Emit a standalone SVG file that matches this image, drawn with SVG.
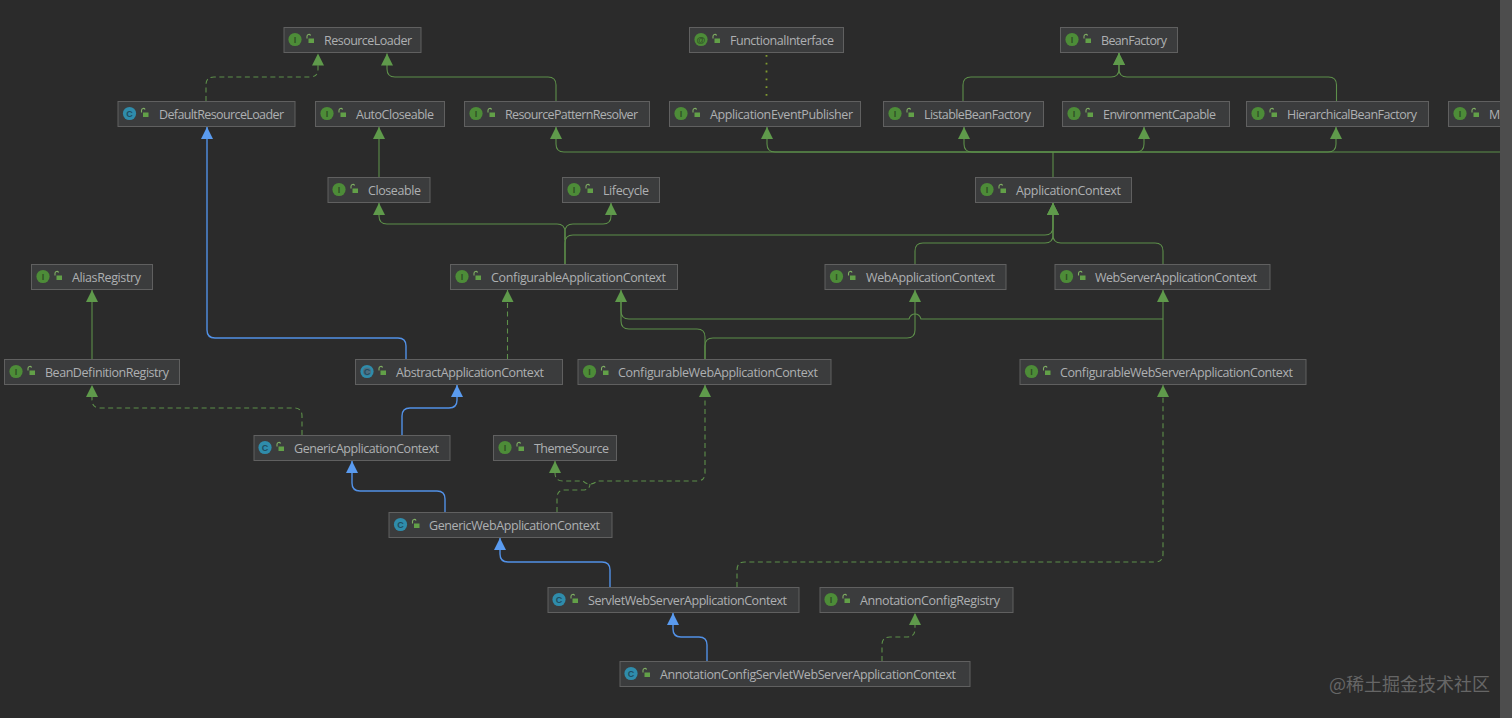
<svg xmlns="http://www.w3.org/2000/svg" width="1512" height="718" viewBox="0 0 1512 718">
<style>
.n{fill:#3b3c3d;stroke:#606060;stroke-width:1}
.t{font-family:"Open Sans","Liberation Sans",sans-serif;font-size:12.5px;fill:#aeb0b2}
.l{font-family:"Liberation Sans",sans-serif;font-size:9px;font-weight:bold;text-anchor:middle}
.e{fill:none;stroke-width:1.1}
.g{stroke:#5d8f4a;marker-end:url(#ag)}
.g0{stroke:#5d8f4a}
.b{stroke:#5291e6;stroke-width:1.4;marker-end:url(#ab)}
.d{stroke-dasharray:5 3.5}
.o{stroke:#7f9a2f;stroke-width:1.8;stroke-dasharray:1.8 6}
.w{font-family:"Noto Sans CJK SC","Liberation Sans",sans-serif;font-size:18px;fill:#666666}
</style>
<defs>
<marker id="ag" markerUnits="userSpaceOnUse" markerWidth="13" markerHeight="13" refX="12" refY="6" orient="auto"><path d="M0 0L12 6L0 12Z" fill="#5f9a4b"/></marker>
<marker id="ab" markerUnits="userSpaceOnUse" markerWidth="13" markerHeight="13" refX="12" refY="6" orient="auto"><path d="M0 0L12 6L0 12Z" fill="#5a9bef"/></marker>
<g id="lock"><path d="M-3 -1v-2.200a1.900 1.900 0 0 1 3.600 -.8" fill="none" stroke="#7fae63" stroke-width="1.100"/><rect x="-1.500" y="-1" width="5.500" height="4.500" fill="#62a048"/></g>
<g id="ii"><circle r="6.600" fill="#4d8c38"/><text class="l" y="3.200" fill="#2f4f25">I</text><use href="#lock" x="15" y="0"/></g>
<g id="ic"><circle r="6.600" fill="#2f8cab"/><text class="l" y="3.200" fill="#1f4d60">C</text><use href="#lock" x="15" y="0"/></g>
<g id="ia"><circle r="6.600" fill="#2f8cab"/><circle r="4" fill="#4f6f80"/><text class="l" y="3.200" fill="#1f4d60">C</text><use href="#lock" x="15" y="0"/></g>
<g id="if"><circle r="6.600" fill="#4d8c38"/><text class="l" y="3.200" fill="#2f4f25">@</text><use href="#lock" x="15" y="0"/></g>
</defs>
<rect width="1512" height="718" fill="#2b2b2b"/>
<g id="connectors" class="e">
<path class="g d e" d="M206 101V85q0-8 8-8H310q8 0 8-8V53.500"/>
<path class="g e" d="M556 101V85q0-8-8-8H395q-8 0-8-8V53.500"/>
<path class="o e" d="M766.500 55V99"/>
<path class="g e" d="M963 101V85q0-8 8-8H1111q8 0 8-8V53"/>
<path class="g e" d="M1336.500 101V85q0-8-8-8H1127q-8 0-8-8V53"/>
<path class="g e" d="M379 177V127"/>
<path class="g0 e" d="M1053 177V152"/>
<path class="g e" d="M1053 152H564q-8 0-8-8V127"/>
<path class="g e" d="M1053 152H775q-8 0-8-8V127"/>
<path class="g e" d="M1053 152H972q-8 0-8-8V127"/>
<path class="g e" d="M1053 152H1136q8 0 8-8V127"/>
<path class="g e" d="M1053 152H1328q8 0 8-8V127"/>
<path class="g0 e" d="M1053 152H1500"/>
<path class="g e" d="M565 264V232q0-8-8-8H387q-8 0-8-8V203"/>
<path class="g e" d="M565 240V232q0-8 8-8H603q8 0 8-8V203"/>
<path class="g e" d="M565 264V243q0-8 8-8H1045q8 0 8-8V203"/>
<path class="g e" d="M915 264V251q0-8 8-8H1045q8 0 8-8V203"/>
<path class="g e" d="M1163 264V251q0-8-8-8H1061q-8 0-8-8V203"/>
<path class="g e" d="M92 359V290"/>
<path class="b e" d="M406 359V346q0-8-8-8H215q-8 0-8-8V127"/>
<path class="g d e" d="M507.500 359V290"/>
<path class="g e" d="M705 359V337q0-8-8-8H629q-8 0-8-8V290"/>
<path class="g e" d="M705 359V346q0-8 8-8H907q8 0 8-8V290"/>
<path class="g e" d="M1163 359V290"/>
<path class="g0 e" d="M1163 319H921q-1.500-5-6-5t-6 5H629q-8 0-8-8V300"/>
<path class="g d e" d="M302 435V416q0-8-8-8H100q-8 0-8-8V385"/>
<path class="b e" d="M402 435V416q0-8 8-8H449q8 0 8-8V385"/>
<path class="b e" d="M445 512V499q0-8-8-8H360q-8 0-8-8V461"/>
<path class="g0 d e" d="M557 512V498q0-8 8-8H582q8 0 8-6"/>
<path class="g0 d e" d="M705 392V473q0 8-8 8H597q-3 3-7 3t-7-3H563q-8 0-8-8V468"/>
<path class="g0 e" d="M705 392V385" style="marker-end:url(#ag)"/>
<path class="g0 e" d="M555 470V461" style="marker-end:url(#ag)"/>
<path class="b e" d="M610 587V570q0-8-8-8H508q-8 0-8-8V538"/>
<path class="g d e" d="M737 587V570q0-8 8-8H1155q8 0 8-8V385"/>
<path class="b e" d="M707 661V645q0-8-8-8H681q-8 0-8-8V613"/>
<path class="g d e" d="M882 661V645q0-8 8-8H907q8 0 8-8V613"/>
</g>
<g id="ResourceLoader"><rect class="n" x="284" y="27.500" width="137" height="25"/><use href="#ii" x="295" y="39.500"/><text class="t" x="324" y="45" textLength="88">ResourceLoader</text></g>
<g id="FunctionalInterface"><rect class="n" x="689.500" y="27.500" width="154" height="25"/><use href="#if" x="701" y="39.500"/><text class="t" x="730" y="45" textLength="104">FunctionalInterface</text></g>
<g id="BeanFactory"><rect class="n" x="1060.500" y="27.500" width="117" height="25"/><use href="#ii" x="1072" y="39.500"/><text class="t" x="1101" y="45" textLength="66">BeanFactory</text></g>
<g id="DefaultResourceLoader"><rect class="n" x="118" y="101.500" width="177" height="25"/><use href="#ic" x="129.500" y="113.500"/><text class="t" x="159" y="119" textLength="125">DefaultResourceLoader</text></g>
<g id="AutoCloseable"><rect class="n" x="315.500" y="101.500" width="129" height="25"/><use href="#ii" x="327" y="113.500"/><text class="t" x="356" y="119" textLength="78">AutoCloseable</text></g>
<g id="ResourcePatternResolver"><rect class="n" x="464.500" y="101.500" width="185" height="25"/><use href="#ii" x="476" y="113.500"/><text class="t" x="505" y="119" textLength="133">ResourcePatternResolver</text></g>
<g id="ApplicationEventPublisher"><rect class="n" x="669.500" y="101.500" width="191" height="25"/><use href="#ii" x="681" y="113.500"/><text class="t" x="710" y="119" textLength="143">ApplicationEventPublisher</text></g>
<g id="ListableBeanFactory"><rect class="n" x="883.500" y="101.500" width="160" height="25"/><use href="#ii" x="895" y="113.500"/><text class="t" x="924" y="119" textLength="107">ListableBeanFactory</text></g>
<g id="EnvironmentCapable"><rect class="n" x="1062.500" y="101.500" width="167" height="25"/><use href="#ii" x="1074" y="113.500"/><text class="t" x="1103" y="119" textLength="113">EnvironmentCapable</text></g>
<g id="HierarchicalBeanFactory"><rect class="n" x="1246.500" y="101.500" width="182" height="25"/><use href="#ii" x="1258" y="113.500"/><text class="t" x="1287" y="119" textLength="130">HierarchicalBeanFactory</text></g>
<g id="M"><rect class="n" x="1448.500" y="101.500" width="70" height="25"/><use href="#ii" x="1460" y="113.500"/><text class="t" x="1489" y="119">M</text></g>
<g id="Closeable"><rect class="n" x="328" y="177.500" width="102" height="25"/><use href="#ii" x="339" y="189.500"/><text class="t" x="368" y="195" textLength="53">Closeable</text></g>
<g id="Lifecycle"><rect class="n" x="562.500" y="177.500" width="97" height="25"/><use href="#ii" x="574" y="189.500"/><text class="t" x="603" y="195" textLength="46">Lifecycle</text></g>
<g id="ApplicationContext"><rect class="n" x="975.500" y="177.500" width="156" height="25"/><use href="#ii" x="987" y="189.500"/><text class="t" x="1016" y="195" textLength="105">ApplicationContext</text></g>
<g id="AliasRegistry"><rect class="n" x="31.500" y="264.500" width="121" height="25"/><use href="#ii" x="43" y="276.500"/><text class="t" x="72" y="282" textLength="69">AliasRegistry</text></g>
<g id="ConfigurableApplicationContext"><rect class="n" x="450.500" y="264.500" width="227" height="25"/><use href="#ii" x="462" y="276.500"/><text class="t" x="491" y="282" textLength="175">ConfigurableApplicationContext</text></g>
<g id="WebApplicationContext"><rect class="n" x="825" y="264.500" width="181" height="25"/><use href="#ii" x="836.500" y="276.500"/><text class="t" x="866" y="282" textLength="129">WebApplicationContext</text></g>
<g id="WebServerApplicationContext"><rect class="n" x="1055" y="264.500" width="215" height="25"/><use href="#ii" x="1066.500" y="276.500"/><text class="t" x="1095" y="282" textLength="162">WebServerApplicationContext</text></g>
<g id="BeanDefinitionRegistry"><rect class="n" x="4.500" y="359.500" width="175" height="25"/><use href="#ii" x="16" y="371.500"/><text class="t" x="45" y="377" textLength="124">BeanDefinitionRegistry</text></g>
<g id="AbstractApplicationContext"><rect class="n" x="355.500" y="359.500" width="207" height="25"/><use href="#ia" x="367" y="371.500"/><text class="t" x="396" y="377" textLength="148">AbstractApplicationContext</text></g>
<g id="ConfigurableWebApplicationContext"><rect class="n" x="578" y="359.500" width="253" height="25"/><use href="#ii" x="589.500" y="371.500"/><text class="t" x="618" y="377" textLength="200">ConfigurableWebApplicationContext</text></g>
<g id="ConfigurableWebServerApplicationContext"><rect class="n" x="1020" y="359.500" width="286" height="25"/><use href="#ii" x="1031.500" y="371.500"/><text class="t" x="1060" y="377" textLength="233">ConfigurableWebServerApplicationContext</text></g>
<g id="GenericApplicationContext"><rect class="n" x="254" y="435.500" width="196" height="25"/><use href="#ic" x="265" y="447.500"/><text class="t" x="294" y="452.500" textLength="145">GenericApplicationContext</text></g>
<g id="ThemeSource"><rect class="n" x="493.500" y="435.500" width="123" height="25"/><use href="#ii" x="505" y="447.500"/><text class="t" x="534" y="452.500" textLength="75">ThemeSource</text></g>
<g id="GenericWebApplicationContext"><rect class="n" x="389" y="512.500" width="223" height="25"/><use href="#ic" x="400.500" y="524.500"/><text class="t" x="429" y="530" textLength="171">GenericWebApplicationContext</text></g>
<g id="ServletWebServerApplicationContext"><rect class="n" x="548" y="587.500" width="251" height="25"/><use href="#ic" x="559" y="599.500"/><text class="t" x="588" y="605" textLength="199">ServletWebServerApplicationContext</text></g>
<g id="AnnotationConfigRegistry"><rect class="n" x="820" y="587.500" width="193" height="25"/><use href="#ii" x="831" y="599.500"/><text class="t" x="860" y="605" textLength="140">AnnotationConfigRegistry</text></g>
<g id="AnnotationConfigServletWebServerApplicationContext"><rect class="n" x="620" y="661.500" width="350" height="25"/><use href="#ic" x="631" y="673.500"/><text class="t" x="660" y="679" textLength="296">AnnotationConfigServletWebServerApplicationContext</text></g>
<rect x="1500" y="0" width="12" height="718" fill="#4d4d4d"/>
<text class="w" x="1329" y="691" textLength="161">@稀土掘金技术社区</text>
</svg>
